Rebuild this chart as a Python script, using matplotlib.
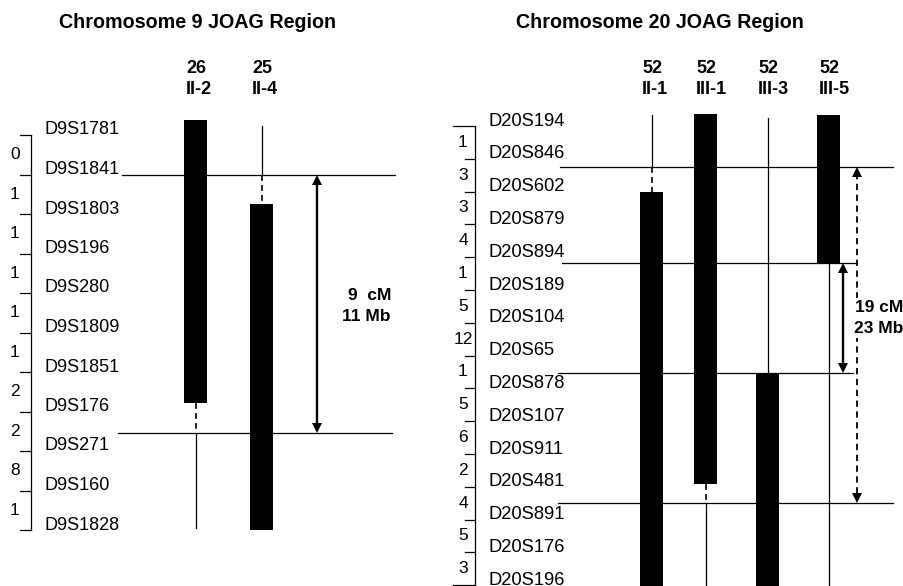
import matplotlib
matplotlib.use("Agg")
import matplotlib.pyplot as plt

plt.rcParams['font.family'] = ['Liberation Sans', 'DejaVu Sans']

# ---------------- data ----------------
chr9_title = "Chromosome 9 JOAG Region"
chr9_markers = ["D9S1781", "D9S1841", "D9S1803", "D9S196", "D9S280", "D9S1809",
                "D9S1851", "D9S176", "D9S271", "D9S160", "D9S1828"]
chr9_cM = ["0", "1", "1", "1", "1", "1", "2", "2", "8", "1"]
chr9_ids = ["26\nII-2", "25\nII-4"]
# segments in marker-index units: (style, start, end)
chr9_segments = [
    [("bar", -0.38, 6.78), ("dash", 6.78, 7.55), ("thin", 7.55, 9.95)],
    [("thin", -0.23, 1.0), ("dash", 1.0, 1.75), ("bar", 1.75, 10.0)],
]
chr9_bounds = [1.0, 7.55]
chr9_arrows = [("solid", 1.0, 7.55)]
chr9_span_label = "9  cM\n11 Mb"

chr20_title = "Chromosome 20 JOAG Region"
chr20_markers = ["D20S194", "D20S846", "D20S602", "D20S879", "D20S894", "D20S189",
                 "D20S104", "D20S65", "D20S878", "D20S107", "D20S911", "D20S481",
                 "D20S891", "D20S176", "D20S196"]
chr20_cM = ["1", "3", "3", "4", "1", "5", "12", "1", "5", "6", "2", "4", "5", "3"]
chr20_ids = ["52\nII-1", "52\nIII-1", "52\nIII-3", "52\nIII-5"]
chr20_segments = [
    [("thin", -0.34, 1.25), ("dash", 1.25, 2.01), ("bar", 2.01, 14.1)],
    [("bar", -0.37, 10.91), ("dash", 10.91, 11.49), ("thin", 11.49, 14.1)],
    [("thin", -0.24, 7.53), ("bar", 7.53, 14.1)],
    [("bar", -0.34, 4.18), ("thin", 4.18, 14.1)],
]
chr20_bounds = [1.25, 4.18, 7.53, 11.49]
chr20_arrows = [("solid", 4.18, 7.53), ("dashed", 1.25, 11.49)]
chr20_span_label = "19 cM\n23 Mb"

# ---------------- layout ----------------
W, H = 904, 586
fig = plt.figure(figsize=(W / 100, H / 100), dpi=100)
ax = fig.add_axes([0, 0, 1, 1])
ax.set_xlim(0, W)
ax.set_ylim(H, 0)
ax.axis('off')

panels = [
    dict(title=chr9_title, title_x=198, markers=chr9_markers, cM=chr9_cM,
         ids=chr9_ids, segs=chr9_segments, bounds=chr9_bounds, arrows=chr9_arrows,
         span=chr9_span_label, y0=135, dy=39.5, brx=31, tick_l=(20, 20, 20),
         num_x=15, lab_x=45, lab_fs=13, lab_off=5, cols=[196, 262],
         bound_x=[(122, 395), (118, 392)], arrow_x=[317], span_xy=(391, 306)),
    dict(title=chr20_title, title_x=660, markers=chr20_markers, cM=chr20_cM,
         ids=chr20_ids, segs=chr20_segments, bounds=chr20_bounds, arrows=chr20_arrows,
         span=chr20_span_label, y0=126, dy=32.8, brx=475, tick_l=(453, 465, 453),
         num_x=463, lab_x=489, lab_fs=13.2, lab_off=5, cols=[652, 706, 768, 829],
         bound_x=[(560, 893), (562, 857), (558, 853), (558, 893)],
         arrow_x=[843, 857], span_xy=(903, 318)),
]

BAR_W = 23

def draw_arrow(x, ya, yb, style):
    ls = '-' if style == 'solid' else (0, (3.5, 2.5))
    lw = 1.7 if style == 'solid' else 1.3
    ax.plot([x, x], [ya + 6, yb - 6], color='black', lw=lw, linestyle=ls,
            solid_capstyle='butt')
    ax.plot([x], [ya + 5], marker='^', ms=7.5, color='black', mew=0)
    ax.plot([x], [yb - 5], marker='v', ms=7.5, color='black', mew=0)

for p in panels:
    yf = lambda i, p=p: p['y0'] + i * p['dy']
    ax.text(p['title_x'], 22, p['title'], ha='center', va='center',
            fontsize=14.2, fontweight='bold')
    n = len(p['markers'])
    # bracket
    ax.plot([p['brx'], p['brx']], [yf(0), yf(n - 1)], color='black', lw=0.9)
    for i, m in enumerate(p['markers']):
        tl = p['tick_l'][0] if i == 0 else (p['tick_l'][2] if i == n - 1 else p['tick_l'][1])
        ax.plot([tl, p['brx']], [yf(i), yf(i)], color='black', lw=0.9)
        ax.text(p['lab_x'], yf(i) - p['lab_off'], m, ha='left', va='center',
                fontsize=p['lab_fs'])
    for i, c in enumerate(p['cM']):
        ax.text(p['num_x'], yf(i + 0.5), c, ha='center', va='center', fontsize=12.5)
    # recombination boundaries
    for b, (xa, xb) in zip(p['bounds'], p['bound_x']):
        ax.plot([xa, xb], [yf(b), yf(b)], color='black', lw=0.9)
    # haplotypes
    for xc, lab, segs in zip(p['cols'], p['ids'], p['segs']):
        ax.text(xc - 10, 79, lab, ha='left', va='center', fontsize=13,
                fontweight='bold', linespacing=1.35)
        for style, s, e in segs:
            ya, yb = yf(s), yf(e)
            if style == 'bar':
                ax.bar(xc, yb - ya, bottom=ya, width=BAR_W, color='black',
                       linewidth=0)
            elif style == 'thin':
                ax.plot([xc, xc], [ya, yb], color='black', lw=0.9)
            else:
                ax.plot([xc, xc], [ya, yb], color='black', lw=1.2,
                        linestyle=(0, (3.5, 2.5)))
    # arrows
    for ax_x, (style, a, b) in zip(p['arrow_x'], p['arrows']):
        draw_arrow(ax_x, yf(a), yf(b), style)
    sx, sy = p['span_xy']
    ax.text(sx, sy, p['span'], ha='right', va='center', fontsize=12.5,
            fontweight='bold', linespacing=1.45,
            bbox=dict(facecolor='white', edgecolor='none', pad=1.5))

fig.savefig("out.png", dpi=100)
